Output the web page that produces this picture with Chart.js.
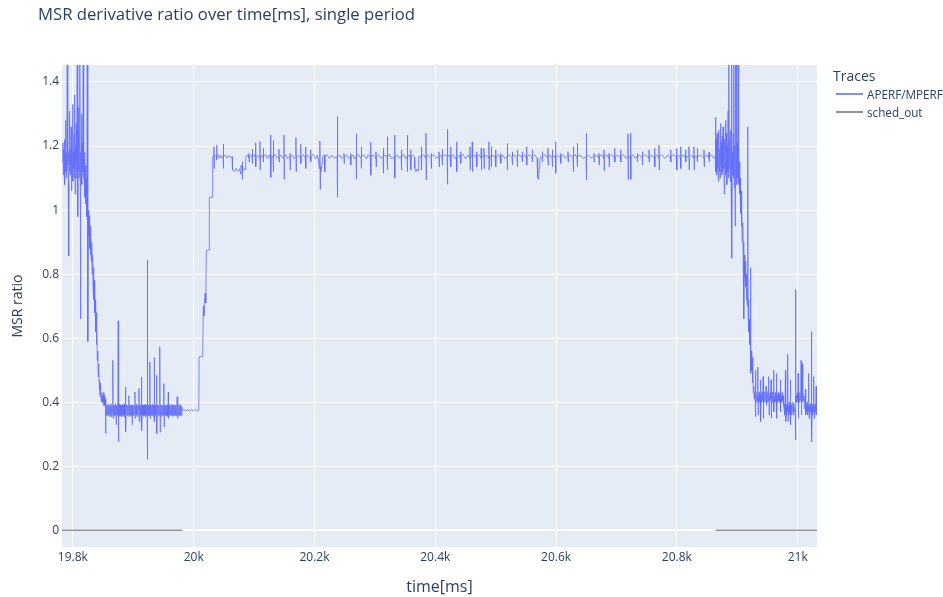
<!DOCTYPE html>
<html>
<head>
<meta charset="utf-8">
<script src="https://cdn.jsdelivr.net/npm/chart.js@4.4.1/dist/chart.umd.min.js"></script>
<style>
  body { margin: 0; background: #fff; font-family: "Open Sans", sans-serif; color: #2a3f5f; overflow: hidden; }
  #wrap { position: relative; width: 943px; height: 597px; }
  #title { position: absolute; left: 38px; top: 4px; font-size: 16.7px; line-height: 20px; white-space: nowrap; }
  #legend { position: absolute; left: 833px; top: 68px; }
  #legend .head { font-size: 14px; line-height: 16px; margin-bottom: 3px; }
  #legend .item { position: relative; font-size: 11.7px; line-height: 14px; height: 17.5px; padding-left: 34px; white-space: nowrap; }
  #legend .item i { position: absolute; left: 3px; top: 6px; width: 27px; height: 2px; }
</style>
</head>
<body>
<div id="wrap">
  <canvas id="chart" width="943" height="597"></canvas>
  <div id="title">MSR derivative ratio over time[ms], single period</div>
  <div id="legend">
    <div class="head">Traces</div>
    <div class="item"><i style="background: rgba(99,110,250,0.8)"></i>APERF/MPERF</div>
    <div class="item"><i style="background: rgba(128,128,128,0.85)"></i>sched_out</div>
  </div>
</div>
<script>
// APERF/MPERF samples, [time ms, ratio]
const earlyBurst = [
  [19783,1.15],[19783.6,1.21],[19784.2,1.11],[19784.8,1.19],[19785.4,1.13],[19786,1.22],[19786.6,1.08],[19787.2,1.17],
  [19787.8,1.12],[19788.4,1.28],[19789,1.10],[19789.6,1.18],[19790.2,1.12],[19790.7,1.5],[19791.2,1.14],[19791.8,1.20],
  [19792.4,1.09],[19793,0.857],[19793.6,1.18],[19794.2,1.12],[19794.8,1.31],[19795.4,1.11],[19796,1.19],[19796.6,1.14],
  [19797.2,1.26],[19797.8,1.06],[19798.4,1.21],[19799,1.12],[19799.6,1.33],[19800.2,1.09],[19800.8,1.18],[19801.4,1.13],
  [19802,1.24],[19802.6,1.10],[19803.2,1.36],[19803.8,1.05],[19804.4,1.20],[19805,1.14],[19805.6,1.27],[19806.2,1.10],
  [19806.8,1.23],[19807.3,1.5],[19807.8,1.11],[19808.2,0.98],[19808.8,1.25],[19809.4,1.12],[19810,1.32],[19810.6,1.1],
  [19811.2,1.2],[19811.7,1.5],[19812.2,1.1],[19812.7,0.66],[19813.2,1.18],[19813.8,1.12],[19814.4,1.30],[19815,1.08],
  [19815.6,1.21],[19816.2,1.12],[19817,1.5],[19817.6,1.1],[19818.2,1.15]
];
const firstDrop = [
  [19818.5,1.12],[19819.3,1.18],[19820,1.04],[19820.8,1.14],[19821.5,1.02],[19822.2,1.10],[19823,0.98],[19823.8,1.5],
  [19824.4,1.05],[19825,0.59],[19825.6,1.00],[19826.3,0.92],[19827,0.98],[19827.7,0.88],[19828.4,0.95],[19829.1,0.86],
  [19829.8,0.92],[19830.5,0.84],[19831.2,0.90],[19832,0.80],[19832.7,0.86],[19833.4,0.76],[19834.1,0.82],[19834.8,0.72],
  [19835.5,0.78],[19836.2,0.68],[19837,0.72],[19837.7,0.62],[19838.4,0.68],[19839.1,0.58],[19839.8,0.63],[19840.5,0.53],
  [19841.2,0.56],[19842,0.48],[19842.7,0.52],[19843.4,0.47],[19844.2,0.44],[19845,0.42],[19845.8,0.46],[19846.6,0.41],
  [19847.4,0.43],[19848.2,0.40],[19849,0.42],[19849.8,0.40],[19850.6,0.43],[19851.4,0.39],[19852.2,0.42],[19853,0.39],
  [19853.8,0.41]
];
const lowPlateau = [
  [19854.2,0.302],[19854.8,0.39],[19855.6,0.36],[19856.4,0.392],[19857.2,0.358],[19858,0.39],[19858.8,0.362],[19859.6,0.394],
  [19860.4,0.356],[19861.2,0.388],[19862,0.36],[19862.8,0.395],[19863.6,0.354],[19864.4,0.39],[19865.2,0.362],[19866,0.38],
  [19866.3,0.531],[19866.7,0.35],[19867.5,0.392],[19868.3,0.358],[19869.1,0.39],[19869.9,0.36],[19870.7,0.396],[19871.5,0.352],
  [19871.9,0.33],[19872.5,0.39],[19873.3,0.36],[19874.1,0.392],[19874.7,0.36],[19875.1,0.654],[19875.5,0.276],[19876,0.38],
  [19876.8,0.394],[19877.6,0.356],[19878.4,0.39],[19879.2,0.36],[19880,0.392],[19880.8,0.355],[19881.6,0.392],[19882.4,0.358],
  [19883.2,0.39],[19884,0.36],[19884.8,0.395],[19885.6,0.354],[19886.4,0.39],[19886.9,0.37],[19887.3,0.448],[19887.7,0.307],
  [19888.2,0.38],[19889,0.392],[19889.8,0.358],[19890.6,0.39],[19891.4,0.36],[19892.2,0.394],[19892.8,0.42],[19893.3,0.355],
  [19894,0.39],[19894.8,0.36],[19895.6,0.392],[19896.4,0.358],[19897.2,0.39],[19898,0.36],[19898.3,0.33],[19898.8,0.392],
  [19899.6,0.358],[19900.4,0.39],[19901.2,0.36],[19902,0.392],[19902.7,0.432],[19903.1,0.35],[19903.8,0.39],[19904.6,0.36],
  [19905.4,0.394],[19906.2,0.356],[19907,0.39],[19907.8,0.362],[19908.6,0.392],[19909.4,0.443],[19909.8,0.34],[19910.4,0.39],
  [19911.2,0.36],[19912,0.392],[19912.8,0.358],[19913.4,0.37],[19913.8,0.479],[19914.2,0.312],[19914.8,0.39],[19915.6,0.36],
  [19916.4,0.392],[19917.2,0.356],[19918,0.39],[19918.8,0.36],[19919.6,0.394],[19920.4,0.355],[19921.2,0.39],[19922,0.36],
  [19922.8,0.38],[19923.2,0.844],[19923.6,0.221],[19924,0.38],[19924.8,0.392],[19925.6,0.358],[19926.4,0.39],[19927.2,0.36],
  [19927.6,0.526],[19928,0.35],[19928.8,0.392],[19929.6,0.358],[19930.4,0.39],[19931.2,0.36],[19932,0.394],[19932.8,0.356],
  [19933.6,0.39],[19934.4,0.37],[19934.8,0.54],[19935.2,0.34],[19936,0.39],[19936.8,0.36],[19937.6,0.392],[19938.2,0.37],
  [19938.6,0.484],[19939,0.302],[19939.6,0.38],[19940.4,0.392],[19941.2,0.358],[19942,0.39],[19942.8,0.36],[19943.6,0.38],
  [19944.1,0.573],[19944.5,0.307],[19945,0.38],[19945.8,0.392],[19946.6,0.356],[19947.4,0.39],[19948.2,0.36],[19949,0.392],
  [19949.8,0.358],[19950.4,0.37],[19950.8,0.458],[19951.2,0.323],[19951.8,0.39],[19952.6,0.36],[19953.4,0.392],[19954.2,0.358],
  [19955,0.39],[19955.8,0.36],[19956.6,0.392],[19957.4,0.355],[19958,0.432],[19958.4,0.35],[19959.2,0.39],[19960,0.36],
  [19960.8,0.392],[19961.6,0.358],[19962.4,0.39],[19963.2,0.36],[19964,0.394],[19964.8,0.356],[19965.6,0.39],[19966.4,0.36],
  [19967.2,0.392],[19968,0.358],[19968.8,0.39],[19969.6,0.36],[19970.4,0.392],[19971.2,0.358],[19972,0.39],[19972.8,0.417],
  [19973.2,0.35],[19974,0.39],[19974.8,0.36],[19975.6,0.392],[19976.4,0.358],[19977.2,0.39],[19978,0.36],[19978.8,0.392],
  [19979.6,0.358],[19980.4,0.385],[19981,0.375],[19984,0.378],[19987,0.372],[19990,0.378],[19993,0.372],[19996,0.378],
  [19999,0.372],[20002,0.378],[20005,0.372],[20008.5,0.375]
];
const rampUp = [
  [20009,0.542],[20014.5,0.542],[20015,0.56],[20016,0.70],[20017,0.67],[20018,0.72],[20019,0.74],[20020,0.71],
  [20021,0.875],[20025.5,0.875],[20026,1.04],[20030.5,1.04]
];
const highPlateau = [
  [20031.5,1.167],[20033.1,1.167],[20033.5,1.198],[20033.9,1.13],[20034.3,1.167],[20036,1.172],[20037.6,1.167],[20038,1.203],
  [20038.4,1.158],[20038.8,1.167],[20041,1.173],[20043,1.162],[20045,1.171],[20047,1.163],[20048.6,1.167],[20049,1.206],
  [20049.4,1.13],[20049.8,1.167],[20052,1.172],[20055,1.162],[20058,1.171],[20061,1.163],[20063.5,1.167],
  [20064.3,1.125],[20067,1.12],[20070,1.13],[20073,1.121],[20076,1.129],[20078,1.112],[20078.5,1.14],[20080.1,1.125],
  [20080.5,1.151],[20080.9,1.096],[20081.3,1.125],[20084,1.13],[20085.6,1.125],[20086.2,1.167],
  [20089,1.172],[20091.1,1.163],[20091.5,1.177],[20091.9,1.15],[20092.3,1.167],[20094.5,1.172],[20096.6,1.162],[20097,1.19],
  [20097.4,1.145],[20097.8,1.167],[20100,1.173],[20102.1,1.163],[20102.5,1.21],[20102.9,1.135],[20103.3,1.167],[20106,1.171],
  [20109.3,1.162],[20109.7,1.214],[20110.1,1.125],[20110.5,1.167],[20113,1.172],[20114.8,1.162],[20115.2,1.193],[20115.6,1.15],
  [20116,1.167],[20119,1.174],[20122,1.161],[20125,1.172],[20127,1.163],[20127.4,1.234],[20127.8,1.102],[20128.2,1.167],
  [20130,1.17],[20131.4,1.162],[20131.8,1.217],[20132.2,1.12],[20132.6,1.167],[20135,1.173],[20138,1.161],[20140.8,1.167],
  [20141.2,1.19],[20141.6,1.15],[20142,1.167],[20144.5,1.172],[20147,1.162],[20149.1,1.167],[20149.5,1.234],[20149.9,1.096],
  [20150.3,1.167],[20153,1.173],[20156,1.161],[20159,1.167],[20159.4,1.177],[20159.8,1.125],[20160.2,1.167],[20163,1.172],
  [20166,1.16],[20168.9,1.167],[20169.3,1.227],[20169.7,1.12],[20170.1,1.167],[20173,1.171],[20176.7,1.162],[20177.1,1.206],
  [20177.5,1.145],[20177.9,1.167],[20181,1.173],[20184.9,1.163],[20185.3,1.198],[20185.7,1.13],[20186.1,1.167],[20189,1.172],
  [20193.2,1.161],[20193.6,1.188],[20194,1.15],[20194.4,1.167],[20198,1.174],[20202,1.16],[20205,1.172],[20207,1.15],
  [20208,1.13],[20208.7,1.14],[20209.1,1.216],[20209.5,1.065],[20210,1.135],[20211,1.12],[20212.5,1.145],[20213.5,1.167],
  [20216.4,1.172],[20216.8,1.161],[20217.2,1.12],[20217.6,1.167],[20221,1.173],[20225,1.161],[20229,1.172],[20233,1.162],
  [20237.4,1.167],[20237.8,1.292],[20238.2,1.04],[20238.6,1.167],[20242,1.172],[20245,1.161],[20248.4,1.167],[20248.8,1.177],
  [20249.2,1.146],[20249.6,1.167],[20253,1.173],[20256,1.162],[20259.5,1.167],[20259.9,1.177],[20260.3,1.141],[20260.7,1.167],
  [20264,1.172],[20266,1.16],[20268.8,1.167],[20269.2,1.238],[20269.6,1.096],[20270,1.167],[20273,1.173],[20277.1,1.162],
  [20277.5,1.198],[20277.9,1.13],[20278.3,1.167],[20282,1.172],[20286,1.16],[20289,1.173],[20292.6,1.163],[20293,1.212],
  [20293.4,1.109],[20293.8,1.167],[20297,1.172],[20301.4,1.161],[20301.8,1.182],[20302.2,1.135],[20302.6,1.167],[20306,1.173],
  [20310,1.162],[20313.6,1.167],[20314,1.193],[20314.4,1.115],[20314.8,1.167],[20317,1.172],[20320.2,1.163],[20320.6,1.229],
  [20321,1.125],[20321.4,1.167],[20324,1.174],[20328,1.16],[20332.3,1.167],[20332.7,1.234],[20333.1,1.1],[20333.5,1.167],
  [20337,1.172],[20340,1.162],[20343.4,1.167],[20343.8,1.188],[20344.2,1.125],[20344.6,1.167],[20348,1.173],[20351,1.161],
  [20353.3,1.167],[20353.7,1.234],[20354.1,1.12],[20354.5,1.167],[20356.5,1.172],[20358.8,1.162],[20359.2,1.188],[20359.6,1.125],
  [20360,1.167],[20363,1.172],[20365.5,1.165],[20366,1.13],[20368,1.12],[20370,1.128],[20372,1.122],[20372.5,1.167],
  [20376.5,1.167],[20376.9,1.198],[20377.3,1.125],[20377.7,1.167],[20381,1.173],[20384.2,1.162],[20384.6,1.24],[20385,1.094],
  [20385.4,1.167],[20389,1.172],[20393,1.161],[20393.4,1.177],[20393.8,1.13],[20394.2,1.167],[20398,1.173],[20402,1.162],
  [20405.7,1.167],[20406.1,1.182],[20406.5,1.135],[20406.9,1.167],[20409,1.172],[20411.2,1.162],[20411.6,1.19],[20412,1.14],
  [20412.4,1.167],[20416,1.173],[20419.6,1.167],[20420,1.252],[20420.4,1.081],[20420.8,1.167],[20423,1.172],[20425,1.162],
  [20425.4,1.198],[20425.8,1.135],[20426.2,1.167],[20429,1.173],[20432,1.161],[20434.9,1.167],[20435.3,1.213],[20435.7,1.12],
  [20436.1,1.167],[20439,1.172],[20441.5,1.162],[20441.9,1.182],[20442.3,1.146],[20442.7,1.167],[20446,1.174],[20450,1.16],
  [20454,1.172],[20457,1.162],[20457.4,1.198],[20457.8,1.125],[20458.2,1.167],[20460.8,1.167],[20461.2,1.213],[20461.6,1.12],
  [20462,1.167],[20465,1.172],[20468,1.162],[20468.4,1.182],[20468.8,1.135],[20469.2,1.167],[20472,1.173],[20475.7,1.162],
  [20476.1,1.193],[20476.5,1.125],[20476.9,1.167],[20480.2,1.167],[20480.6,1.193],[20481,1.13],[20481.4,1.167],[20484,1.172],
  [20488.4,1.162],[20488.8,1.213],[20489.2,1.125],[20489.6,1.167],[20492.3,1.167],[20492.7,1.198],[20493.1,1.135],[20493.5,1.167],
  [20496,1.172],[20499.5,1.162],[20499.9,1.188],[20500.3,1.135],[20500.7,1.167],[20504,1.173],[20507.8,1.162],[20508.2,1.177],
  [20508.6,1.146],[20509,1.167],[20512,1.172],[20515,1.161],[20518.8,1.167],[20519.2,1.208],[20519.6,1.125],[20520,1.167],
  [20523,1.173],[20527.1,1.162],[20527.5,1.182],[20527.9,1.141],[20528.3,1.167],[20531,1.172],[20535.4,1.161],[20535.8,1.188],
  [20536.2,1.135],[20536.6,1.167],[20540,1.173],[20543.6,1.162],[20544,1.182],[20544.4,1.15],[20544.8,1.167],[20548,1.172],
  [20550.8,1.162],[20551.2,1.198],[20551.6,1.141],[20552,1.167],[20556,1.173],[20560.2,1.162],[20560.6,1.188],[20561,1.15],
  [20561.4,1.167],[20565,1.172],[20568.5,1.162],[20569,1.15],[20570,1.1],[20571,1.096],[20572,1.13],[20573,1.15],
  [20574,1.167],[20576.8,1.162],[20577.2,1.182],[20577.6,1.15],[20578,1.167],[20582,1.173],[20586.1,1.162],[20586.5,1.193],
  [20586.9,1.14],[20587.3,1.167],[20590,1.172],[20593.3,1.162],[20593.7,1.188],[20594.1,1.135],[20594.5,1.167],[20598.8,1.167],
  [20599.2,1.213],[20599.6,1.115],[20600,1.167],[20603,1.172],[20607.1,1.162],[20607.5,1.177],[20607.9,1.146],[20608.3,1.167],
  [20612,1.173],[20616,1.161],[20619.3,1.167],[20619.7,1.182],[20620.1,1.15],[20620.5,1.167],[20624,1.172],[20628.1,1.162],
  [20628.5,1.198],[20628.9,1.12],[20629.3,1.167],[20632,1.173],[20634.7,1.162],[20635.1,1.208],[20635.5,1.135],[20635.9,1.167],
  [20640,1.172],[20645,1.161],[20649.6,1.167],[20650,1.24],[20650.4,1.094],[20650.8,1.167],[20654,1.172],[20658,1.162],
  [20662.3,1.167],[20662.7,1.177],[20663.1,1.15],[20663.5,1.167],[20667,1.172],[20670.6,1.162],[20671,1.177],[20671.4,1.141],
  [20671.8,1.167],[20675,1.173],[20678.9,1.162],[20679.3,1.188],[20679.7,1.123],[20680.1,1.167],[20684,1.172],[20687.2,1.162],
  [20687.6,1.177],[20688,1.135],[20688.4,1.167],[20692,1.173],[20696.6,1.162],[20697,1.193],[20697.4,1.15],[20697.8,1.167],
  [20702,1.172],[20706.5,1.162],[20706.9,1.188],[20707.3,1.15],[20707.7,1.167],[20712,1.173],[20716,1.161],[20718.6,1.167],
  [20719,1.238],[20719.4,1.096],[20719.8,1.167],[20723,1.167],[20723.4,1.24],[20723.8,1.096],[20724.2,1.167],[20728,1.172],
  [20731,1.162],[20734.1,1.167],[20734.5,1.177],[20734.9,1.15],[20735.3,1.167],[20738,1.172],[20742.4,1.162],[20742.8,1.182],
  [20743.2,1.141],[20743.6,1.167],[20748,1.173],[20753.4,1.162],[20753.8,1.188],[20754.2,1.15],[20754.6,1.167],[20758,1.172],
  [20762.8,1.162],[20763.2,1.193],[20763.6,1.135],[20764,1.167],[20767,1.172],[20770,1.162],[20770.4,1.203],[20770.8,1.125],
  [20771.2,1.167],[20775,1.173],[20780,1.161],[20785,1.172],[20789.3,1.162],[20789.7,1.188],[20790.1,1.15],[20790.5,1.167],
  [20795,1.173],[20799.2,1.162],[20799.6,1.193],[20800,1.125],[20800.4,1.167],[20803,1.172],[20805.8,1.162],[20806.2,1.198],
  [20806.6,1.13],[20807,1.167],[20811,1.173],[20814.1,1.162],[20814.5,1.188],[20814.9,1.15],[20815.3,1.167],[20819.6,1.167],
  [20820,1.198],[20820.4,1.125],[20820.8,1.167],[20824,1.172],[20827.9,1.162],[20828.3,1.198],[20828.7,1.125],[20829.1,1.167],
  [20833.4,1.167],[20833.8,1.193],[20834.2,1.15],[20834.6,1.167],[20839,1.172],[20844.5,1.162],[20844.9,1.188],[20845.3,1.135],
  [20845.7,1.167],[20849,1.172],[20852.8,1.162],[20853.2,1.18],[20853.6,1.15],[20854,1.167],[20858,1.172],[20861,1.162],
  [20863.5,1.167]
];
const lateBurst = [
  [20864,1.29],[20864.5,1.12],[20865.2,1.22],[20865.9,1.11],[20866.6,1.24],[20867.3,1.13],[20868,1.2],[20868.7,1.09],
  [20869.4,1.25],[20870.1,1.12],[20870.8,1.19],[20871.5,1.1],[20872.2,1.27],[20872.9,1.14],[20873.6,1.21],[20874.3,1.11],
  [20875,1.23],[20875.7,1.12],[20876.4,1.26],[20877.1,1.13],[20877.8,1.2],[20878.5,1.05],[20879.2,1.22],[20879.9,1.14],
  [20880.6,1.28],[20881.3,1.11],[20882,1.24],[20882.7,1.08],[20883.4,1.2],[20884.1,1.12],[20884.8,1.31],[20885.5,1.1],
  [20886.2,1.5],[20886.9,1.13],[20887.6,1.22],[20888.3,1.09],[20889,1.25],[20889.7,1.12],[20890.4,1.5],[20891.1,0.85],
  [20891.8,1.18],[20892.5,1.11],[20893.2,1.24],[20893.9,1.1],[20894.5,1.5],[20895.1,1.07],[20895.8,1.2],[20896.5,0.95],
  [20897.2,1.5],[20897.9,1.12],[20898.6,1.5],[20899.3,1.08],[20900,1.21],[20900.7,1.1],[20901.4,1.5],[20902,1.12]
];
const secondDrop = [
  [20902.7,1.08],[20903.4,1.15],[20904.1,1.05],[20904.8,1.1],[20905.5,0.99],[20906.2,1.06],[20906.9,0.95],[20907.6,1.0],
  [20908.3,0.9],[20909,0.96],[20909.7,0.86],[20910.4,0.9],[20911.1,0.66],[20911.8,0.86],[20912.5,0.79],[20913.2,0.84],
  [20913.9,0.76],[20914.6,0.8],[20915.3,0.72],[20916,0.77],[20916.7,0.7],[20917.3,1.26],[20917.9,0.68],[20918.6,0.72],
  [20919.3,0.62],[20920,0.66],[20920.7,0.58],[20921.4,0.63],[20921.9,0.82],[20922.5,0.49],[20923.2,0.56],[20923.9,0.5],
  [20924.6,0.54],[20925.3,0.46],[20926,0.5],[20926.7,0.43],[20927.4,0.45]
];
const lowTail = [
  [20928,0.41],[20928.8,0.43],[20929.6,0.40],[20930,0.50],[20930.4,0.355],[20931,0.42],[20931.8,0.40],[20932.6,0.43],
  [20933.4,0.405],[20934,0.51],[20934.4,0.36],[20935,0.42],[20935.8,0.40],[20936.6,0.432],[20937.4,0.402],[20938,0.41],
  [20938.4,0.47],[20938.8,0.34],[20939.4,0.42],[20940.2,0.40],[20941,0.43],[20941.8,0.405],[20942.4,0.42],[20942.8,0.48],
  [20943.2,0.35],[20943.8,0.42],[20944.6,0.40],[20945.4,0.432],[20946.2,0.404],[20947,0.42],[20947.7,0.45],[20948.1,0.39],
  [20948.8,0.425],[20949.6,0.40],[20950.4,0.43],[20951.2,0.405],[20951.8,0.42],[20952.2,0.48],[20952.6,0.36],[20953.2,0.42],
  [20954,0.40],[20954.8,0.43],[20955.6,0.41],[20956,0.47],[20956.4,0.35],[20957,0.42],[20957.8,0.40],[20958.6,0.432],
  [20959.4,0.404],[20960,0.42],[20960.4,0.50],[20960.8,0.37],[20961.4,0.42],[20962.2,0.40],[20963,0.43],[20963.8,0.405],
  [20964.5,0.42],[20964.9,0.49],[20965.3,0.35],[20966,0.42],[20966.8,0.40],[20967.6,0.43],[20968.4,0.405],[20969.2,0.425],
  [20970,0.40],[20970.8,0.43],[20971.5,0.47],[20971.9,0.37],[20972.6,0.42],[20973.4,0.40],[20974.2,0.43],[20975,0.405],
  [20975.8,0.42],[20976.6,0.39],[20977.4,0.38],[20978.2,0.395],[20979,0.36],[20979.8,0.50],[20980.2,0.34],[20980.8,0.39],
  [20981.6,0.36],[20982.4,0.395],[20983.2,0.37],[20983.6,0.55],[20984,0.34],[20984.6,0.39],[20985.4,0.36],[20986.2,0.40],
  [20987,0.365],[20987.6,0.38],[20988,0.47],[20988.4,0.33],[20989,0.39],[20989.8,0.36],[20990.6,0.395],[20991.4,0.37],
  [20992.2,0.40],[20993,0.36],[20993.8,0.395],[20994.6,0.37],[20995.8,0.38],[20996.3,0.752],[20996.7,0.282],[20997.2,0.40],
  [20998,0.42],[20998.8,0.40],[20999.6,0.43],[21000.3,0.41],[21000.7,0.49],[21001.1,0.35],[21001.8,0.42],[21002.6,0.40],
  [21003.4,0.43],[21004.2,0.405],[21005,0.42],[21005.7,0.53],[21006.1,0.36],[21006.8,0.42],[21007.6,0.52],[21008,0.40],
  [21008.8,0.43],[21009.6,0.405],[21010.4,0.42],[21011.2,0.38],[21012,0.39],[21012.9,0.44],[21013.3,0.36],[21014,0.39],
  [21014.8,0.37],[21015.6,0.40],[21016.4,0.36],[21017.2,0.39],[21018,0.37],[21018.4,0.49],[21018.8,0.35],[21019.4,0.39],
  [21020.2,0.36],[21021,0.395],[21021.8,0.37],[21022.4,0.38],[21022.8,0.62],[21023.2,0.276],[21023.8,0.39],[21024.6,0.36],
  [21025.4,0.395],[21026.2,0.37],[21026.7,0.48],[21027.1,0.35],[21027.8,0.39],[21028.6,0.36],[21029.4,0.395],[21030,0.37],
  [21030.5,0.45],[21030.9,0.36],[21031.5,0.39],[21032,0.38]
];

// sched_out: thread off-cpu spans, drawn at 0
const schedOutSpans = [[19782, 19981], [20864, 21032]];

const xTicks = [19800, 20000, 20200, 20400, 20600, 20800, 21000];
const yTicks = [0, 0.2, 0.4, 0.6, 0.8, 1, 1.2, 1.4];
const xRange = [19782, 21032];
const yRange = [-0.052, 1.453];

const textColor = '#2a3f5f';
const tickFont = { family: '"Open Sans", sans-serif', size: 12 };

const aperfPoints = [].concat(earlyBurst, firstDrop, lowPlateau, rampUp, highPlateau, lateBurst, secondDrop, lowTail)
    .map(p => ({ x: p[0], y: p[1] }));

const schedPoints = [];
schedOutSpans.forEach(s => {
    schedPoints.push({ x: s[0], y: 0 }, { x: s[1], y: 0 }, { x: s[1], y: null });
});

// plot background like plotly
const plotBg = {
    id: 'plotBg',
    beforeDraw(chart) {
        const a = chart.chartArea;
        const ctx = chart.ctx;
        ctx.save();
        ctx.fillStyle = '#e5ecf6';
        ctx.fillRect(a.left, a.top, a.right - a.left, a.bottom - a.top);
        ctx.restore();
    }
};

new Chart(document.getElementById('chart'), {
    type: 'line',
    data: {
        datasets: [
            {
                label: 'APERF/MPERF',
                data: aperfPoints,
                borderColor: 'rgba(99,110,250,0.8)',
                borderWidth: 1,
                pointRadius: 0,
                tension: 0,
                order: 1
            },
            {
                label: 'sched_out',
                data: schedPoints,
                borderColor: 'rgba(128,128,128,0.85)',
                borderWidth: 1.5,
                pointRadius: 0,
                spanGaps: false,
                order: 0
            }
        ]
    },
    options: {
        responsive: false,
        animation: false,
        parsing: false,
        layout: { padding: { top: 65, right: 126, left: 0, bottom: 0 } },
        plugins: {
            legend: { display: false },
            tooltip: { enabled: false }
        },
        scales: {
            x: {
                type: 'linear',
                min: xRange[0],
                max: xRange[1],
                afterBuildTicks: axis => { axis.ticks = xTicks.map(v => ({ value: v })); },
                afterFit: axis => { axis.height = 50; },
                ticks: {
                    callback: v => (v / 1000) + 'k',
                    font: tickFont,
                    color: textColor,
                    padding: 3,
                    maxRotation: 0,
                    autoSkip: false
                },
                grid: { color: '#ffffff', lineWidth: 1, drawTicks: false },
                border: { display: false },
                title: {
                    display: true,
                    text: 'time[ms]',
                    color: textColor,
                    font: { family: '"Open Sans", sans-serif', size: 16 },
                    padding: { top: 0, bottom: 0 }
                }
            },
            y: {
                type: 'linear',
                min: yRange[0],
                max: yRange[1],
                afterBuildTicks: axis => { axis.ticks = yTicks.map(v => ({ value: v })); },
                afterFit: axis => { axis.width = 62; },
                ticks: {
                    callback: v => String(v),
                    font: tickFont,
                    color: textColor,
                    padding: 3
                },
                grid: {
                    color: '#ffffff',
                    lineWidth: c => (c.tick && c.tick.value === 0 ? 2 : 1),
                    drawTicks: false
                },
                border: { display: false },
                title: {
                    display: true,
                    text: 'MSR ratio',
                    color: textColor,
                    font: { family: '"Open Sans", sans-serif', size: 14 },
                    padding: { top: 10, bottom: 0 }
                }
            }
        }
    },
    plugins: [plotBg]
});
</script>
</body>
</html>
